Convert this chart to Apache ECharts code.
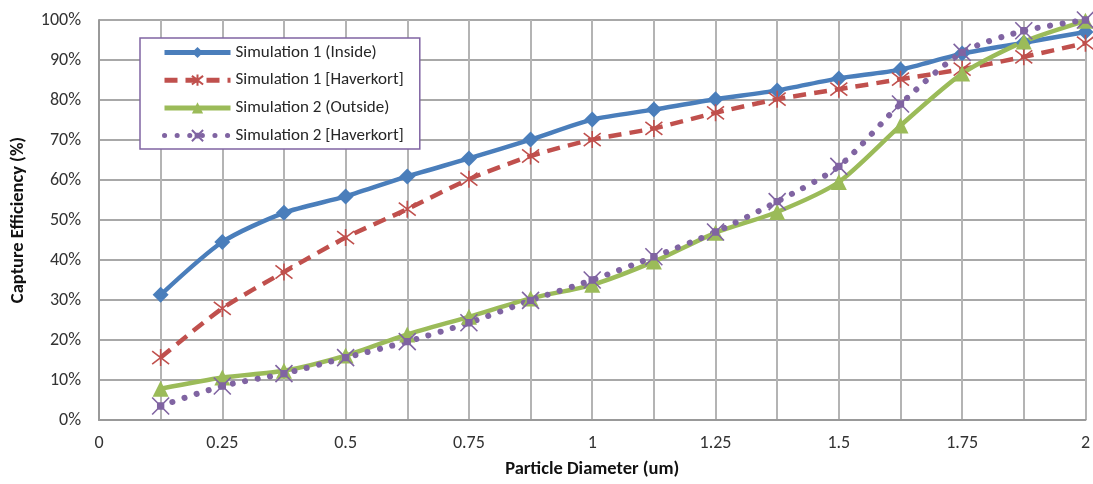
<!DOCTYPE html>
<html><head><meta charset="utf-8">
<script src="https://cdn.jsdelivr.net/npm/echarts@6/dist/echarts.min.js"></script>
<style>html,body{margin:0;padding:0;background:#fff}#c{width:1093px;height:484px}</style>
</head><body><div id="c"></div>
<script>
const diameters = [0.125,0.25,0.375,0.5,0.625,0.75,0.875,1,1.125,1.25,1.375,1.5,1.625,1.75,1.875,2];
const sim1Inside    = [31.3,44.5,51.8,55.9,60.9,65.4,70.1,75.1,77.6,80.2,82.4,85.4,87.6,91.6,94.3,97.0];
const sim1Haverkort = [15.6,27.9,37.0,45.6,52.7,60.2,66.0,70.1,72.9,76.8,80.2,82.7,85.2,87.7,90.8,94.2];
const sim2Outside   = [7.8,10.6,12.3,16.1,21.4,25.8,30.4,33.8,39.6,46.8,52.0,59.5,73.6,86.6,94.6,99.8];
const sim2Haverkort = [3.5,8.5,11.6,15.6,19.6,24.3,29.9,35.0,40.8,47.0,54.6,63.4,79.0,91.9,97.3,100];
const seriesNames = ['Simulation 1 (Inside)','Simulation 1 [Haverkort]','Simulation 2 (Outside)','Simulation 2 [Haverkort]'];
const yTicks = [0,10,20,30,40,50,60,70,80,90,100];

const pair = arr => diameters.map((x,i)=>[x,arr[i]]);
const FONT = 'Carlito, "Liberation Sans", sans-serif';
const chart = echarts.init(document.getElementById('c'), null, {renderer:'canvas'});
const star = 'path://M0,0L10,10M10,0L0,10M5,-1.5L5,11.5';
const xmark = 'path://M0,0L10,10M10,0L0,10M3.3,3.3L6.7,3.3L6.7,6.7L3.3,6.7Z';
chart.setOption({
  animation:false,
  textStyle:{fontFamily:FONT},
  grid:{left:99,right:2,top:20,bottom:64,containLabel:false},
  legend:{
    orient:'vertical', left:140, top:38,
    backgroundColor:'#fff', borderColor:'#8064a2', borderWidth:1.5,
    padding:[6,16,5,22], itemWidth:66, itemHeight:14, itemGap:10.7,
    textStyle:{fontSize:17,color:'#262626',fontFamily:FONT},
    lineStyle:{width:5},
    data:seriesNames
  },
  xAxis:{
    type:'value', min:0, max:2, interval:0.125,
    name:'Particle Diameter (um)', nameLocation:'middle', nameGap:40,
    nameTextStyle:{fontSize:18.5,fontWeight:'bold',color:'#111',fontFamily:FONT},
    axisLine:{show:true,lineStyle:{color:'#999',width:2}},
    axisTick:{show:false},
    splitLine:{show:true,lineStyle:{color:'#b4b4b4',width:2}},
    axisLabel:{fontSize:18,color:'#333',margin:14,showMaxLabel:true,
      formatter:v=>{const q=v*4; return Math.abs(q-Math.round(q))<1e-6 ? String(+v.toFixed(3)) : '';}}
  },
  yAxis:{
    type:'value', min:0, max:100, interval:10,
    name:'Capture Efficiency (%)', nameLocation:'middle', nameGap:71, nameRotate:90,
    nameTextStyle:{fontSize:18.5,fontWeight:'bold',color:'#111',fontFamily:FONT},
    axisLine:{show:true,lineStyle:{color:'#999',width:2}},
    axisTick:{show:false},
    splitLine:{show:true,lineStyle:{color:'#a8a8a8',width:2}},
    axisLabel:{fontSize:18,color:'#333',margin:18,formatter:v=>yTicks.includes(v)?v+'%':''}
  },
  series:[
    {name:seriesNames[0],type:'line',data:pair(sim1Inside),smooth:0.25,
     lineStyle:{color:'#4a7ebb',width:4.5},itemStyle:{color:'#4a7ebb'},
     symbol:'diamond',symbolSize:16},
    {name:seriesNames[1],type:'line',data:pair(sim1Haverkort),smooth:0.25,
     lineStyle:{color:'#c0504d',width:4.5,type:[13,8]},
     itemStyle:{color:'#c0504d',borderColor:'#c0504d',borderWidth:1.6},
     symbol:star,symbolSize:[17,17]},
    {name:seriesNames[2],type:'line',data:pair(sim2Outside),smooth:0.25,
     lineStyle:{color:'#9bbb59',width:4.5},itemStyle:{color:'#9bbb59'},
     symbol:'triangle',symbolSize:16},
    {name:seriesNames[3],type:'line',data:pair(sim2Haverkort),smooth:0.25,
     lineStyle:{color:'#8064a2',width:6,type:[0.1,12.5],cap:'round'},
     itemStyle:{color:'#8064a2',borderColor:'#8064a2',borderWidth:1.6},
     symbol:xmark,symbolSize:[17,17]}
  ]
});
</script></body></html>
